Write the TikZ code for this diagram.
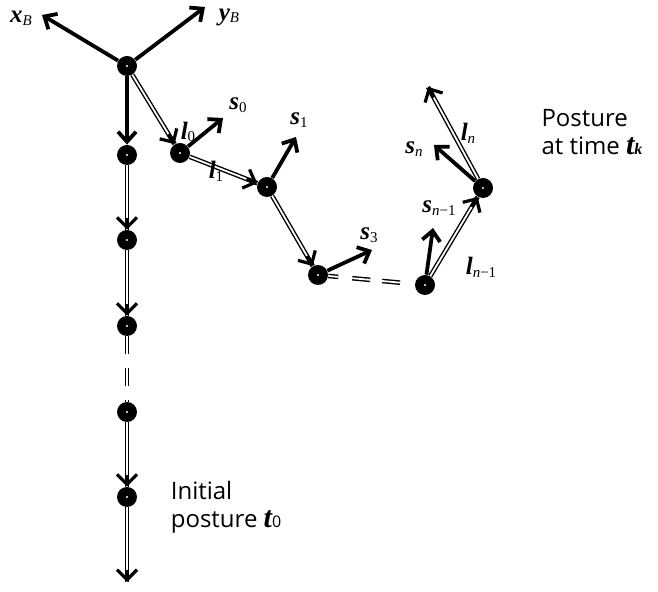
\documentclass[tikz,border=0pt]{standalone}
\usepackage{fontspec}
\setmainfont{Open Sans}
\newfontfamily\symfont{Liberation Serif}
\usetikzlibrary{arrows.meta,calc}

% bold italic symbol with small subscript
\newcommand{\vsym}[2]{{\symfont\bfseries\itshape #1}{\symfont\fontsize{7.5}{8}\selectfont\raisebox{-0.4ex}{#2}}}
% double link with a solid barb at its end
\newcommand{\linkto}[3]{\draw[link] (#1) -- (#2);
  \draw[barb] ($(#2)!#3!(#1)$) -- (#2);}

\tikzset{
  joint/.style={circle, fill=black, minimum size=10pt, inner sep=0pt,
    path picture={\fill[white] (path picture bounding box.center) circle (0.6pt);}},
  link/.style={double, line width=0.7pt, double distance=0.9pt},
  barb/.style={line width=1.6pt, -{Straight Barb[length=5pt,width=10pt]}},
  vec/.style={line width=1.9pt, -{Straight Barb[length=5pt,width=9pt]}},
  sym/.style={inner sep=1pt, font=\fontsize{12.5}{13}\selectfont},
  note/.style={align=left, font=\fontsize{12}{14}\selectfont}
}

\begin{document}
\begin{tikzpicture}[x=0.5pt, y=-0.5pt]
  \useasboundingbox (0,0) rectangle (658,592);

  % base frame
  \node[joint] (b) at (127,66) {};
  \coordinate (xb) at (42,15);
  \coordinate (yb) at (205,7);
  \draw[vec] (b) -- (xb);
  \draw[vec] (b) -- (yb);
  \node[sym] (nxb) at (21,18) {\vsym{x}{\textit{B}}};
  \node[sym] (nyb) at (229,17) {\vsym{y}{\textit{B}}};

  % initial posture
  \node[joint] (v1) at (127,155) {};
  \node[joint] (v2) at (127,240) {};
  \node[joint] (v3) at (127,326) {};
  \node[joint] (v4) at (127,412) {};
  \node[joint] (v5) at (127,497) {};
  \coordinate (vend) at (127,582);
  \draw[vec] (b) -- (v1);
  \linkto{v1}{v2}{11pt}
  \linkto{v2}{v3}{11pt}
  \draw[link,dash pattern=on 9pt off 7pt on 9pt off 7pt on 20pt] (v3) -- (v4);
  \linkto{v4}{v5}{11pt}
  \linkto{v5}{vend}{6pt}
  \node[note] (ini) at (226,507) {Initial\\posture {\symfont\bfseries\itshape\fontsize{15}{15}\selectfont t}{\fontsize{8}{8}\selectfont 0}};

  % posture at time t_k
  \node[joint] (p0) at (180,153) {};
  \node[joint] (p1) at (267,187) {};
  \node[joint] (p2) at (318,275) {};
  \node[joint] (p3) at (425,285) {};
  \node[joint] (p4) at (483,188) {};
  \coordinate (pend) at (428,87);
  \linkto{b}{p0}{11pt}
  \linkto{p0}{p1}{11pt}
  \linkto{p1}{p2}{11pt}
  \draw[link,dash pattern=on 5pt off 7pt on 9pt off 6pt on 9pt off 20pt] (p2) -- (p3);
  \linkto{p3}{p4}{11pt}
  \linkto{p4}{pend}{6pt}

  \coordinate (s0) at (223,118);
  \coordinate (s1) at (296,137);
  \coordinate (s3) at (372,250);
  \coordinate (sm) at (433,228);
  \coordinate (sn) at (434,145);
  \draw[vec] (p0) -- (s0);
  \draw[vec] (p1) -- (s1);
  \draw[vec] (p2) -- (s3);
  \draw[vec] (p3) -- (sm);
  \draw[vec] (p4) -- (sn);

  \node[sym] (ns0) at (238,105) {\vsym{s}{0}};
  \node[sym] (ns1) at (299,120) {\vsym{s}{1}};
  \node[sym] (ns3) at (369,235) {\vsym{s}{3}};
  \node[sym] (nsm) at (439,208) {\vsym{s}{\textit{n}−1}};
  \node[sym] (nsn) at (414,149) {\vsym{s}{\textit{n}}};
  \node[sym] (nl0) at (188,132) {\vsym{l}{0}};
  \node[sym] (nl1) at (216,171) {\vsym{l}{1}};
  \node[sym] (nln) at (468,133) {\vsym{l}{\textit{n}}};
  \node[sym] (nlm) at (481,267) {\vsym{l}{\textit{n}−1}};

  \node[note] (fin) at (592,132) {Posture\\at time {\symfont\bfseries\itshape\fontsize{15}{15}\selectfont t}{\symfont\bfseries\itshape\fontsize{8}{8}\selectfont k}};
\end{tikzpicture}
\end{document}
